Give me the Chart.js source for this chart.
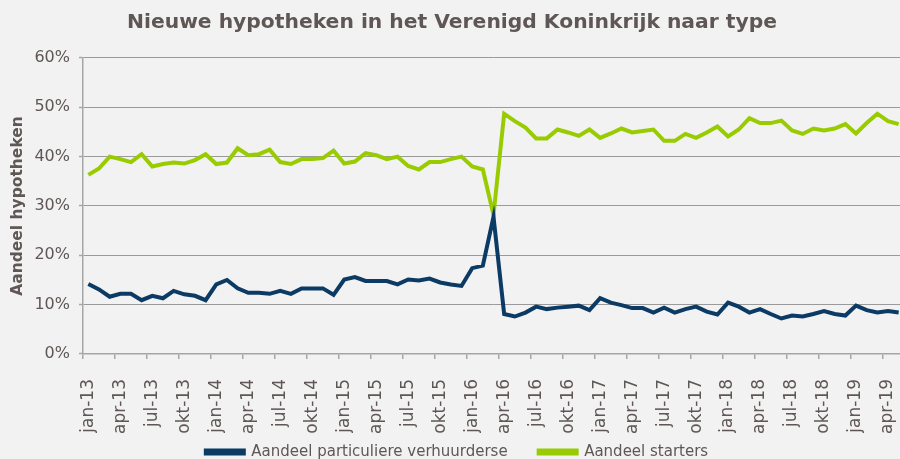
<!DOCTYPE html>
<html>
<head>
<meta charset="utf-8">
<script src="https://cdn.jsdelivr.net/npm/chart.js@4"></script>
<style>
html,body{margin:0;padding:0;background:#f2f2f2;overflow:hidden;}
#wrap{width:906px;height:459px;position:relative;}
</style>
</head>
<body>
<div id="wrap"><canvas id="c"></canvas></div>
<script>
const categories = [
 'jan-13','feb-13','mrt-13','apr-13','mei-13','jun-13','jul-13','aug-13','sep-13','okt-13','nov-13','dec-13',
 'jan-14','feb-14','mrt-14','apr-14','mei-14','jun-14','jul-14','aug-14','sep-14','okt-14','nov-14','dec-14',
 'jan-15','feb-15','mrt-15','apr-15','mei-15','jun-15','jul-15','aug-15','sep-15','okt-15','nov-15','dec-15',
 'jan-16','feb-16','mrt-16','apr-16','mei-16','jun-16','jul-16','aug-16','sep-16','okt-16','nov-16','dec-16',
 'jan-17','feb-17','mrt-17','apr-17','mei-17','jun-17','jul-17','aug-17','sep-17','okt-17','nov-17','dec-17',
 'jan-18','feb-18','mrt-18','apr-18','mei-18','jun-18','jul-18','aug-18','sep-18','okt-18','nov-18','dec-18',
 'jan-19','feb-19','mrt-19','apr-19','mei-19'
];
const verhuurders = [
 14.2,13.1,11.6,12.2,12.2,10.9,11.8,11.3,12.8,12.1,11.8,10.9,
 14.1,15.0,13.3,12.4,12.4,12.2,12.8,12.2,13.3,13.3,13.3,12.0,
 15.1,15.6,14.8,14.8,14.8,14.1,15.1,14.9,15.3,14.5,14.1,13.8,
 17.4,17.9,27.8,8.1,7.6,8.4,9.6,9.1,9.4,9.6,9.8,8.9,
 11.3,10.4,9.9,9.3,9.3,8.4,9.4,8.4,9.1,9.6,8.6,8.0,
 10.4,9.6,8.4,9.1,8.1,7.2,7.8,7.6,8.1,8.7,8.1,7.8,
 9.8,8.9,8.4,8.7,8.4
];
const starters = [
 36.3,37.6,40.0,39.5,38.9,40.5,38.0,38.5,38.8,38.6,39.3,40.5,
 38.5,38.8,41.7,40.3,40.5,41.4,38.9,38.5,39.5,39.5,39.7,41.2,
 38.6,39.0,40.7,40.3,39.5,40.0,38.1,37.4,38.9,38.9,39.5,40.0,
 38.0,37.4,28.2,48.7,47.2,45.9,43.7,43.7,45.5,44.9,44.2,45.5,
 43.8,44.7,45.7,44.9,45.2,45.5,43.2,43.2,44.6,43.8,44.9,46.1,
 44.1,45.5,47.8,46.8,46.8,47.3,45.3,44.6,45.7,45.3,45.7,46.6,
 44.7,46.8,48.7,47.2,46.6
];
const seriesNames = ['Aandeel particuliere verhuurderse','Aandeel starters'];
const yTicks = [0,10,20,30,40,50,60];

const FONT = 'DejaVu Sans';
const TXT = '#5f5755';
const AXIS = '#a6a6a6';

Chart.defaults.font.family = FONT;
Chart.defaults.color = TXT;

// nudge the legend a little to the right, as in the original
const legendShift = {
  id: 'legendShift',
  afterLayout(chart) {
    if (chart.legend) { chart.legend.left += 5; chart.legend.right += 5; }
  }
};

new Chart(document.getElementById('c'), {
  type: 'line',
  data: {
    labels: categories,
    datasets: [
      {label: seriesNames[0], data: verhuurders, borderColor: '#0b3a64', backgroundColor: '#0b3a64', borderWidth: 4, pointRadius: 0, tension: 0},
      {label: seriesNames[1], data: starters, borderColor: '#99cc00', backgroundColor: '#99cc00', borderWidth: 4, pointRadius: 0, tension: 0}
    ]
  },
  plugins: [legendShift],
  options: {
    responsive: true,
    maintainAspectRatio: false,
    animation: false,
    layout: {padding: {left: 0, right: 2, top: 0, bottom: -10.5}},
    plugins: {
      title: {
        display: true,
        text: 'Nieuwe hypotheken in het Verenigd Koninkrijk naar type',
        color: TXT,
        font: {family: FONT, size: 20.3, weight: 'bold'},
        padding: {top: 11, bottom: 22.6}
      },
      legend: {
        position: 'bottom',
        labels: {
          boxWidth: 38, boxHeight: 3,
          font: {family: FONT, size: 15},
          color: TXT,
          padding: 31
        }
      },
      tooltip: {enabled: false}
    },
    scales: {
      x: {
        offset: true,
        grid: {
          offset: true,
          drawOnChartArea: false,
          drawTicks: true,
          tickLength: 5,
          color: (ctx) => (ctx.index % 3 === 0 ? AXIS : 'rgba(0,0,0,0)'),
          tickColor: (ctx) => (ctx.index % 3 === 0 ? AXIS : 'rgba(0,0,0,0)'),
          lineWidth: 1.5
        },
        border: {display: true, color: AXIS, width: 1.5},
        ticks: {
          autoSkip: false,
          maxRotation: 90,
          minRotation: 90,
          padding: 20,
          font: {family: FONT, size: 17},
          color: TXT,
          callback: function(v, i) { return i % 3 === 0 ? categories[i] : ''; }
        },
        afterFit: (s) => {
          s.height = 59.5;
          s.paddingLeft = 0;
          s.paddingRight = 0;
          // let the rotated month labels run past the axis box, as in the original
          s._computeLabelArea = () => undefined;
        }
      },
      y: {
        min: 0, max: 60,
        afterBuildTicks: (s) => { s.ticks = yTicks.map(v => ({value: v})); },
        grid: {
          color: '#9a9a9a',
          lineWidth: 1,
          borderDash: [1, 2],
          drawTicks: true,
          tickLength: 4,
          tickColor: AXIS,
          tickBorderDash: [],
          tickWidth: 1.5
        },
        border: {display: true, color: AXIS, width: 1.5},
        ticks: {
          padding: 9,
          font: {family: FONT, size: 16},
          color: TXT,
          callback: (v) => v + '%'
        },
        title: {
          display: true,
          text: 'Aandeel hypotheken',
          color: TXT,
          font: {family: FONT, size: 15.5, weight: 'bold'},
          padding: {top: 9, bottom: 0}
        },
        afterFit: (s) => { s.width = 83; }
      }
    }
  }
});
</script>
</body>
</html>
